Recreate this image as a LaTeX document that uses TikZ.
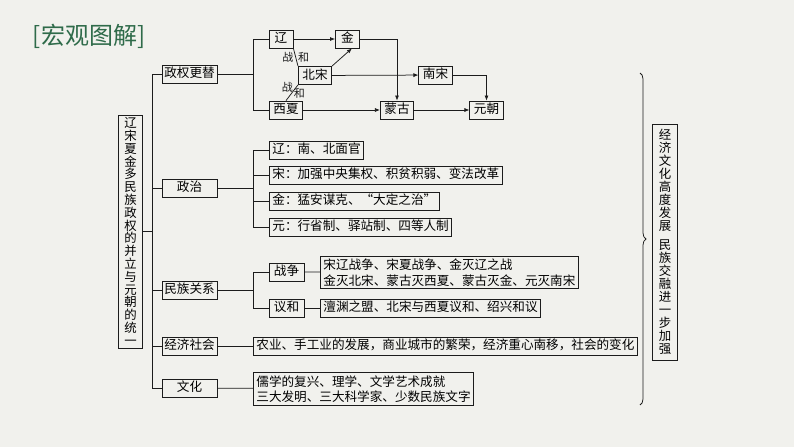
\documentclass[tikz,border=0pt]{standalone}
\usepackage{fontspec}
\setmainfont{Noto Sans CJK SC}
\usetikzlibrary{arrows.meta,decorations.pathreplacing}
\definecolor{paper}{HTML}{F1F1ED}
\definecolor{titlegreen}{HTML}{2F6B4A}
\definecolor{inkgray}{HTML}{1C1C1C}

\begin{document}
\begin{tikzpicture}[x=1pt,y=-1pt,>=Latex,
  bx/.style={draw=inkgray,line width=0.85pt,inner xsep=4pt,inner ysep=0pt,
    text height=10.3pt,text depth=2.6pt,minimum height=18pt,minimum width=24pt,
    font=\fontsize{12.6}{14}\selectfont},
  lv/.style={bx,inner xsep=2pt,minimum width=55pt},
  tx/.style={draw=inkgray,line width=0.85pt,align=left,inner xsep=3pt,inner ysep=2.5pt,
    font=\fontsize{12.6}{15.5}\selectfont},
  vt/.style={draw=inkgray,line width=0.85pt,align=center,text width=12.5pt,
    inner xsep=6pt,inner ysep=1pt},
  ln/.style={line width=0.75pt,inkgray},
  a/.style={ln,-{Latex[length=5pt,width=4pt]}},
  sm/.style={font=\fontsize{11}{12}\selectfont,inner sep=1pt}]
\fill[paper] (0,0) rectangle (794,447);
\useasboundingbox (0,0) rectangle (794,447);

\node[font=\fontsize{24}{26}\selectfont,text=titlegreen] (ttl) at (89,36) {[宏观图解]};

% main title box
\node[vt,minimum height=233pt,font=\fontsize{12.4}{12.8}\selectfont] (main) at (130.5,231.5)
  {辽\\宋\\夏\\金\\多\\民\\族\\政\\权\\的\\并\\立\\与\\元\\朝\\的\\统\\一};

\node[lv] (zq) at (189.5,74) {政权更替};
\node[lv] (zz) at (189.5,188) {政治};
\node[lv] (mz) at (189.5,290) {民族关系};
\node[lv] (jj) at (189.5,346) {经济社会};
\node[lv] (wh) at (189.5,388) {文化};
\foreach \n in {zq,zz,mz,jj,wh} \draw[ln] (main.east) -- ++(9,0) |- (\n.west);

% regimes
\node[bx] (liao) at (281,39) {辽};
\node[bx] (jin) at (347.5,39) {金};
\node[bx] (bs) at (315,75.5) {北宋};
\node[bx] (ns) at (435.5,75) {南宋};
\node[bx] (xx) at (286,110) {西夏};
\node[bx] (mg) at (397,110) {蒙古};
\node[bx] (yc) at (486.5,110) {元朝};
\draw[ln] (zq.east) -- ++(36,0) |- (liao.west);
\draw[ln] (zq.east) -- ++(36,0) |- (xx.west);
\draw[a] (liao) -- (jin);
\draw[a] (bs.north east) -- (jin.-65);
\draw[a] (jin.east) -| (mg.north);
\draw[a] (bs) -- (ns);
\draw[a] (ns.east) -| (yc.north);
\draw[a] (xx) -- (mg);
\draw[a] (mg) -- (yc);
\draw[ln] (liao.south east) -- node[sm,left=1pt]{战} node[sm,right=1pt]{和} (bs.north west);
\draw[ln] (bs.south west) -- node[sm,pos=0.15,left=2pt]{战} node[sm,pos=0.55,right=1pt]{和} (xx.north);

% politics
\node[bx,inner xsep=3pt,anchor=west] (p1) at (269,150) {辽：南、北面官};
\node[bx,inner xsep=3pt,anchor=west] (p2) at (269,175) {宋：加强中央集权、积贫积弱、变法改革};
\node[bx,inner xsep=3pt,anchor=west] (p3) at (269,201) {金：猛安谋克、“大定之治”};
\node[bx,inner xsep=3pt,anchor=west] (p4) at (269,227) {元：行省制、驿站制、四等人制};
\foreach \n in {p1,p2,p3,p4} \draw[ln] (zz.east) -- ++(36,0) |- (\n.west);

% ethnic relations
\node[bx,minimum width=35pt] (zhz) at (286.5,272) {战争};
\node[bx,minimum width=35pt] (yh) at (286.5,308) {议和};
\foreach \n in {zhz,yh} \draw[ln] (mz.east) -- ++(36,0) |- (\n.west);
\node[tx,anchor=west] (zhz1) at (320,272.5)
  {宋辽战争、宋夏战争、金灭辽之战\\金灭北宋、蒙古灭西夏、蒙古灭金、元灭南宋};
\node[bx,inner xsep=3pt,anchor=west] (yh1) at (320,308) {澶渊之盟、北宋与西夏议和、绍兴和议};
\draw[ln] (zhz) -- (zhz1);
\draw[ln] (yh) -- (yh1);

% economy, culture
\node[bx,inner xsep=3pt,anchor=west] (jj1) at (253,346)
  {农业、手工业的发展，商业城市的繁荣，经济重心南移，社会的变化};
\node[tx,anchor=west] (wh1) at (253,389)
  {儒学的复兴、理学、文学艺术成就\\三大发明、三大科学家、少数民族文字};
\draw[ln] (jj) -- (jj1);
\draw[ln] (wh) -- (wh1);

% brace and summary
\coordinate (bt) at (640,73);
\coordinate (bb) at (640,405);
\draw[ln,decorate,decoration={brace,amplitude=6pt}] (bt) -- (bb);
\node[vt,minimum height=236pt,font=\fontsize{12.4}{13}\selectfont] (sum) at (665,242)
  {经\\济\\文\\化\\高\\度\\发\\展\\[6pt]民\\族\\交\\融\\进\\一\\步\\加\\强};
\end{tikzpicture}
\end{document}
